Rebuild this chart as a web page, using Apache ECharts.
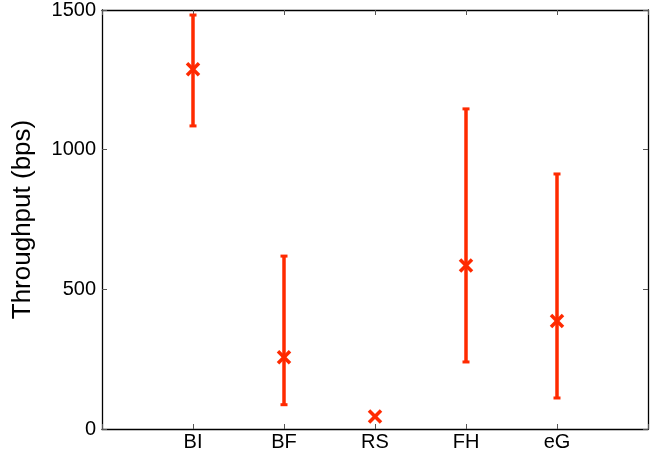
<!DOCTYPE html>
<html><head><meta charset="utf-8">
<script src="https://cdn.jsdelivr.net/npm/echarts@6/dist/echarts.min.js"></script>
<style>html,body{margin:0;padding:0;background:#fff}#c{width:662px;height:461px}</style>
</head><body><div id="c"></div>
<script>
const categories = ['BI', 'BF', 'RS', 'FH', 'eG'];
const means = [1288, 257, 45, 585, 387];
const lowers = [1085, 87, 45, 240, 111];
const uppers = [1482, 619, 45, 1146, 913];
const yTicks = [0, 500, 1000, 1500];

const color = '#ff2a00';
const font = '"Liberation Sans", Arial, Helvetica, sans-serif';
const data = categories.map((c, i) => [i + 1, means[i], lowers[i], uppers[i]]);

const chart = echarts.init(document.getElementById('c'));
const axisCommon = {
  axisLine: {show: true, onZero: false, lineStyle: {color: '#000', width: 1.3}},
  splitLine: {show: false}
};
chart.setOption({
  animation: false,
  grid: {left: 102, right: 14, top: 10, bottom: 32},
  xAxis: [
    Object.assign({}, axisCommon, {
      type: 'value', min: 0, max: 6, interval: 1, position: 'bottom',
      axisTick: {show: true, inside: true, length: 5, lineStyle: {color: '#555'}},
      axisLabel: {
        fontFamily: font, fontSize: 20, color: '#000', margin: 3,
        formatter: v => (v >= 1 && v <= categories.length) ? categories[v - 1] : ''
      }
    }),
    Object.assign({}, axisCommon, {
      type: 'value', min: 0, max: 6, interval: 1, position: 'top',
      axisTick: {show: true, inside: true, length: 5, lineStyle: {color: '#555'}},
      axisLabel: {show: false}
    })
  ],
  yAxis: [
    Object.assign({}, axisCommon, {
      type: 'value', min: 0, max: 1500, interval: 500, position: 'left',
      axisTick: {show: true, inside: true, length: 5, lineStyle: {color: '#555'}},
      axisLabel: {fontFamily: font, fontSize: 20, color: '#000', margin: 6,
        formatter: v => yTicks.includes(v) ? String(v) : ''},
      name: 'Throughput (bps)', nameLocation: 'middle', nameGap: 66,
      nameTextStyle: {fontFamily: font, fontSize: 26, color: '#000'}
    }),
    Object.assign({}, axisCommon, {
      type: 'value', min: 0, max: 1500, interval: 500, position: 'right',
      axisTick: {show: true, inside: true, length: 5, lineStyle: {color: '#555'}},
      axisLabel: {show: false}
    })
  ],
  series: [{
    type: 'custom',
    xAxisIndex: 0, yAxisIndex: 0,
    data: data,
    encode: {x: 0, y: [1, 2, 3]},
    renderItem: function (params, api) {
      const x = api.value(0);
      const pm = api.coord([x, api.value(1)]);
      const pl = api.coord([x, api.value(2)]);
      const pu = api.coord([x, api.value(3)]);
      const children = [];
      const st = {stroke: color, lineWidth: 3.5, fill: null};
      if (Math.abs(pl[1] - pu[1]) > 1) {
        children.push({type: 'line', shape: {x1: pm[0], y1: pu[1], x2: pm[0], y2: pl[1]}, style: st});
        children.push({type: 'line', shape: {x1: pm[0] - 3.5, y1: pu[1], x2: pm[0] + 3.5, y2: pu[1]}, style: {stroke: color, lineWidth: 3}});
        children.push({type: 'line', shape: {x1: pm[0] - 3.5, y1: pl[1], x2: pm[0] + 3.5, y2: pl[1]}, style: {stroke: color, lineWidth: 3}});
      }
      const s = 6;
      children.push({type: 'line', shape: {x1: pm[0] - s, y1: pm[1] - s, x2: pm[0] + s, y2: pm[1] + s}, style: {stroke: color, lineWidth: 3.5}});
      children.push({type: 'line', shape: {x1: pm[0] - s, y1: pm[1] + s, x2: pm[0] + s, y2: pm[1] - s}, style: {stroke: color, lineWidth: 3.5}});
      return {type: 'group', children: children};
    }
  }]
});
</script></body></html>
